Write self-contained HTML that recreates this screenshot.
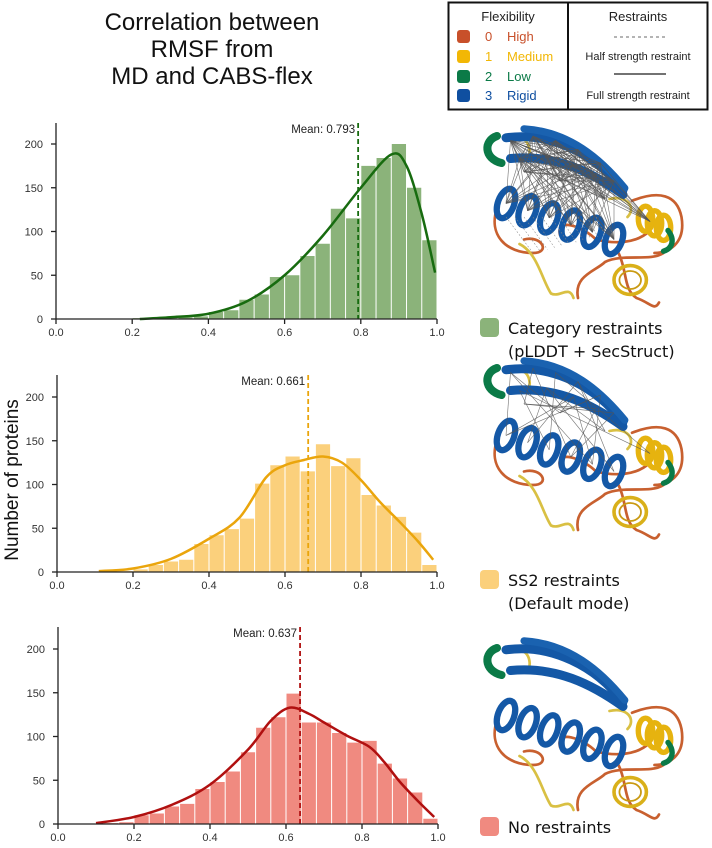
<!DOCTYPE html>
<html><head><meta charset="utf-8">
<style>
body{margin:0;background:#fff;}
#root{position:relative;width:712px;height:848px;overflow:hidden;font-family:"Liberation Sans",sans-serif;}
svg text{font-family:"Liberation Sans",sans-serif;}
svg .lbl{font-family:"DejaVu Sans","Liberation Sans",sans-serif;}
</style></head>
<body>
<div id="root">
<svg id="svg" width="712" height="848" viewBox="0 0 712 848">
<g font-size="24" fill="#111" text-anchor="middle">
<text x="212" y="30">Correlation between</text>
<text x="212" y="57">RMSF from</text>
<text x="212" y="84">MD and CABS-flex</text>
</g>
<g>
<rect x="448.5" y="2.5" width="259" height="107" fill="#fff" stroke="#111" stroke-width="2"/>
<line x1="568" y1="2" x2="568" y2="110" stroke="#111" stroke-width="2"/>
<text x="508" y="21" font-size="13" text-anchor="middle" fill="#222">Flexibility</text>
<g><rect x="457" y="30" width="13" height="13" rx="3" fill="#c8502a"/><text x="485" y="41" font-size="13" fill="#c8502a">0</text><text x="507" y="41" font-size="13" fill="#c8502a">High</text></g>
<g><rect x="457" y="50" width="13" height="13" rx="3" fill="#f2b705"/><text x="485" y="61" font-size="13" fill="#f2b705">1</text><text x="507" y="61" font-size="13" fill="#f2b705">Medium</text></g>
<g><rect x="457" y="70" width="13" height="13" rx="3" fill="#0b7a47"/><text x="485" y="81" font-size="13" fill="#0b7a47">2</text><text x="507" y="81" font-size="13" fill="#0b7a47">Low</text></g>
<g><rect x="457" y="89" width="13" height="13" rx="3" fill="#0f4fa0"/><text x="485" y="100" font-size="13" fill="#0f4fa0">3</text><text x="507" y="100" font-size="13" fill="#0f4fa0">Rigid</text></g>
<text x="638" y="21" font-size="13" text-anchor="middle" fill="#222">Restraints</text>
<line x1="614" y1="37" x2="666" y2="37" stroke="#888" stroke-width="1.2" stroke-dasharray="3,3"/>
<text x="638" y="60" font-size="11" text-anchor="middle" fill="#222">Half strength restraint</text>
<line x1="614" y1="74" x2="666" y2="74" stroke="#444" stroke-width="1.5"/>
<text x="638" y="99" font-size="11" text-anchor="middle" fill="#222">Full strength restraint</text>
</g>
<text transform="translate(18,480) rotate(-90)" font-size="19" text-anchor="middle" fill="#111">Number of proteins</text>
<g id="charts"></g>
<g id="proteins"></g>
<g>
<rect x="480" y="318" width="19" height="19" rx="4" fill="#8bb37a"/>
<text class="lbl" x="508" y="334" font-size="16" fill="#111">Category restraints</text>
<text class="lbl" x="508" y="357" font-size="16" fill="#111">(pLDDT + SecStruct)</text>
</g>
<g>
<rect x="480" y="570" width="19" height="19" rx="4" fill="#fbd07c"/>
<text class="lbl" x="508" y="586" font-size="16" fill="#111">SS2 restraints</text>
<text class="lbl" x="508" y="609" font-size="16" fill="#111">(Default mode)</text>
</g>
<g>
<rect x="480" y="817" width="19" height="19" rx="4" fill="#f08a80"/>
<text class="lbl" x="508" y="833" font-size="16" fill="#111">No restraints</text>
</g>
</svg>
</div>
<script>
// ---- data ----
const binStart = [0.00,0.04,0.08,0.12,0.16,0.20,0.24,0.28,0.32,0.36,0.40,0.44,0.48,0.52,0.56,0.60,0.64,0.68,0.72,0.76,0.80,0.84,0.88,0.92,0.96];
const binWidth = 0.04;
const greenCounts = [0,0,0,0,0,1,1,1,2,3,8,10,22,28,48,50,72,86,126,115,175,184,200,150,90];
const yellowCounts = [0,0,0,0,1,3,8,12,14,32,42,49,61,101,122,132,115,146,121,130,88,76,63,45,8];
const redCounts = [0,0,0,1,2,10,12,20,23,40,48,60,82,110,122,149,116,116,104,93,95,69,52,36,6];
const greenKdeX = [0.22,0.30,0.40,0.50,0.60,0.70,0.80,0.88,0.92,0.96,0.995];
const greenKdeY = [0,2,6,20,50,95,150,188,175,120,53];
const yellowKdeX = [0.11,0.20,0.30,0.40,0.48,0.55,0.60,0.65,0.70,0.75,0.80,0.85,0.90,0.95,0.99];
const yellowKdeY = [1,4,15,38,62,108,122,128,132,125,105,80,58,35,14];
const redKdeX = [0.10,0.20,0.30,0.40,0.50,0.56,0.61,0.66,0.70,0.76,0.82,0.86,0.90,0.95,0.99];
const redKdeY = [1,8,22,45,85,118,133,126,116,101,88,70,48,25,8];
const means = [0.793,0.661,0.637];
const xTicks = [0.0,0.2,0.4,0.6,0.8,1.0];
const xTickLabels = ["0.0","0.2","0.4","0.6","0.8","1.0"];
const yTicks = [0,50,100,150,200];

const NS="http://www.w3.org/2000/svg";
function mk(tag,attrs,parent){const e=document.createElementNS(NS,tag);for(const k in attrs)e.setAttribute(k,attrs[k]);parent.appendChild(e);return e;}
const panels=[
 {key:"category",counts:greenCounts,kx:greenKdeX,ky:greenKdeY,mean:means[0],x0:56,x1:437,y0:319,yTop:123,bar:"#8bb37a",line:"#176b0f"},
 {key:"ss2",counts:yellowCounts,kx:yellowKdeX,ky:yellowKdeY,mean:means[1],x0:57,x1:437,y0:572,yTop:375,bar:"#fbd07c",line:"#eaa50c"},
 {key:"none",counts:redCounts,kx:redKdeX,ky:redKdeY,mean:means[2],x0:58,x1:438,y0:824,yTop:627,bar:"#f08a80",line:"#b01010"}
];
const charts=document.getElementById('charts');
panels.forEach(p=>{
  const sx=v=>p.x0+(p.x1-p.x0)*v;
  const pxu=175/200;
  const sy=v=>p.y0-v*pxu;
  const g=mk('g',{},charts);
  
  
  binStart.forEach((b,i)=>{
    const c=p.counts[i]; if(c<=0) return;
    const r=mk('rect',{x:sx(b)+0.5,y:sy(c),width:sx(b+binWidth)-sx(b)-1,height:sy(0)-sy(c),fill:p.bar},g);
    
    
  });
  const pts=p.kx.map((x,i)=>[sx(x),sy(p.ky[i])]);
  let d="M"+pts[0][0]+","+pts[0][1];
  for(let i=0;i<pts.length-1;i++){
    const a=pts[Math.max(0,i-1)],b=pts[i],c=pts[i+1],e=pts[Math.min(pts.length-1,i+2)];
    d+=` C${b[0]+(c[0]-a[0])/6},${b[1]+(c[1]-a[1])/6} ${c[0]-(e[0]-b[0])/6},${c[1]-(e[1]-b[1])/6} ${c[0]},${c[1]}`;
  }
  const k=mk('path',{d:d,fill:"none",stroke:p.line,"stroke-width":2.5},g);
  
  
  const ml=mk('line',{x1:sx(p.mean),x2:sx(p.mean),y1:p.yTop,y2:p.y0,stroke:p.line,"stroke-width":1.8,"stroke-dasharray":"5,3"},g);
  
  
  const mt=mk('text',{x:sx(p.mean)-3,y:p.yTop+10,"font-size":11.5,"text-anchor":"end",fill:"#222"},g);
  mt.textContent="Mean: "+p.mean.toFixed(3);
  
  
  const ax=mk('g',{stroke:"#222","stroke-width":1.3},g);
  
  
  mk('line',{x1:p.x0,x2:p.x0,y1:p.yTop,y2:p.y0},ax);
  mk('line',{x1:p.x0,x2:p.x1,y1:p.y0,y2:p.y0},ax);
  xTicks.forEach((t,i)=>{
    mk('line',{x1:sx(t),x2:sx(t),y1:p.y0,y2:p.y0+5},ax);
    const tx=mk('text',{x:sx(t),y:p.y0+17,"font-size":11,"text-anchor":"middle",fill:"#333",stroke:"none"},g);
    tx.textContent=xTickLabels[i];
    
    
  });
  yTicks.forEach(t=>{
    mk('line',{x1:p.x0-5,x2:p.x0,y1:sy(t),y2:sy(t)},ax);
    const tx=mk('text',{x:p.x0-13,y:sy(t)+4,"font-size":11,"text-anchor":"end",fill:"#333",stroke:"none"},g);
    tx.textContent=t;
    
    
  });
});

// ---- protein cartoons ----
const prot=document.getElementById('proteins');
const origins=[[470,118,"category",2],[470,350,"ss2",1],[470,630,"none",0]];
origins.forEach(o=>{
  const g=mk('g',{transform:`translate(${o[0]},${o[1]}) scale(0.9)`},prot);
  
  
  const L=(d,c,w)=>mk('path',{d:d,fill:"none",stroke:c,"stroke-width":w,"stroke-linecap":"round"},g);
  L("M30,100 C20,130 40,150 70,150 C90,150 80,130 60,135","#c8602f",3);
  L("M55,140 C75,150 80,180 90,195 C100,200 110,185 115,200","#d9c043",3);
  L("M120,200 C115,175 140,170 150,160 C170,150 200,160 215,150","#c8602f",3);
  L("M100,130 C95,110 125,120 140,135 C160,140 185,140 200,125","#c8602f",3);
  L("M180,92 C210,80 230,85 235,110 C240,140 220,150 205,150","#c8602f",3);
  L("M155,90 C175,85 185,100 175,110","#d9c043",3);
  L("M165,150 C175,170 170,190 185,200 C200,205 205,215 210,205","#c8602f",3);
  L("M40,25 C60,15 70,30 65,45","#d9c043",3);
  L("M30,20 C15,25 15,45 35,50","#0b7a47",9);
  L("M40,22 C90,15 140,40 170,80","#1458a6",10);
  L("M45,45 C95,40 135,60 170,85","#1458a6",10);
  L("M60,12 C110,15 145,45 172,78","#1a62b0",8);
  for(let i=0;i<6;i++){
    mk('ellipse',{cx:40+i*24,cy:95+i*8,rx:9,ry:17,fill:"none",stroke:"#1458a6","stroke-width":7,transform:`rotate(20 ${40+i*24} ${95+i*8})`},g);
  }
  for(let i=0;i<3;i++){
    mk('ellipse',{cx:195+i*10,cy:112+i*5,rx:8,ry:14,fill:"none",stroke:"#e6b30f","stroke-width":6},g);
  }
  L("M220,125 C228,135 225,145 215,148","#0b7a47",6);
  mk('ellipse',{cx:178,cy:180,rx:18,ry:16,fill:"none",stroke:"#d9b01a","stroke-width":4},g);
  mk('ellipse',{cx:178,cy:180,rx:12,ry:10,fill:"none",stroke:"#c99a12","stroke-width":2},g);
  if(o[3]>0){
    const pA=[[45,25],[70,20],[95,25],[120,35],[145,50],[160,70],[55,45],[85,42],[115,52],[140,65]];
    const pB=[[40,95],[64,103],[88,111],[112,119],[136,127],[160,135],[200,115],[60,60],[100,70],[150,90]];
    const n=o[3]===2?1:0;
    pA.forEach((a,i)=>pB.forEach((b,j)=>{
      if(n||((i+j)%4===0)) mk('line',{x1:a[0],y1:a[1],x2:b[0],y2:b[1],stroke:"#555","stroke-width":0.7,opacity:0.8},g);
    }));
    if(n){
      pA.forEach((a,i)=>pA.forEach((b,j)=>{if(j>i+2)mk('line',{x1:a[0],y1:a[1],x2:b[0],y2:b[1],stroke:"#555","stroke-width":0.7},g);}));
      for(let i=0;i<12;i++) mk('line',{x1:40+i*10,y1:110,x2:70+i*8,y2:150-i*2,stroke:"#888","stroke-width":0.6,"stroke-dasharray":"2,2"},g);
    }
  }
});
</script>
</body></html>
